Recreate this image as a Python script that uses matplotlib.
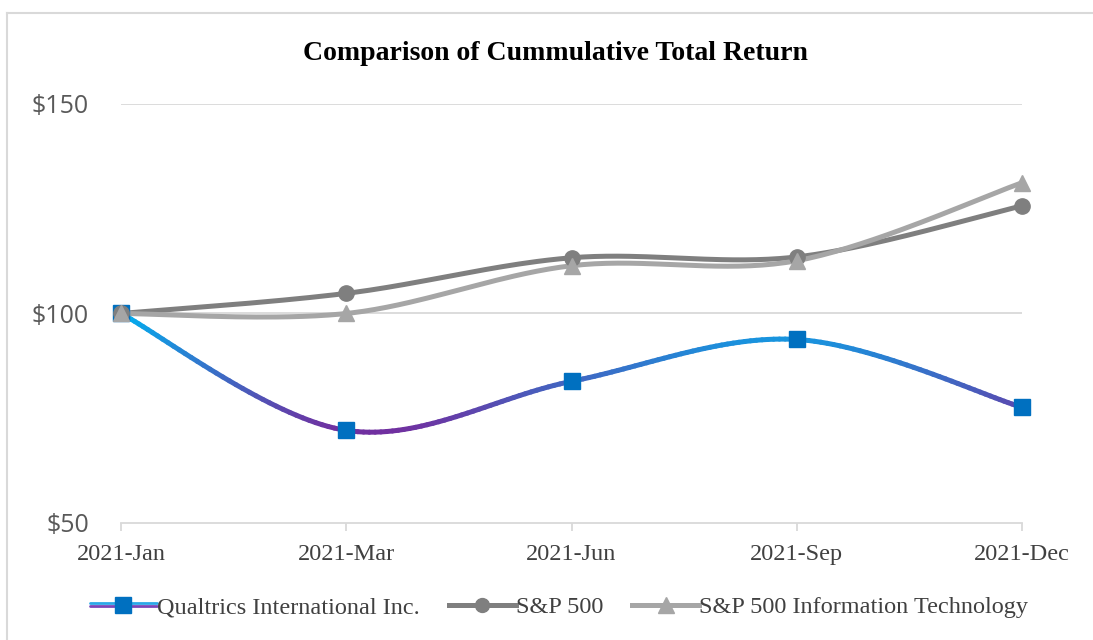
import numpy as np
import matplotlib
matplotlib.use("Agg")
import matplotlib.pyplot as plt
from matplotlib.collections import LineCollection
from matplotlib.colors import LinearSegmentedColormap
from matplotlib.legend_handler import HandlerBase
from matplotlib.lines import Line2D

months = ["2021-Jan", "2021-Mar", "2021-Jun", "2021-Sep", "2021-Dec"]
qualtrics = [100, 72.1, 83.8, 93.8, 77.6]
sp500 = [100, 104.8, 113.3, 113.5, 125.7]
sp500_it = [100, 100, 111.4, 112.6, 131.2]
yticks = [50, 100, 150]
ytick_labels = ["$50", "$100", "$150"]

serif = "Liberation Serif"
grad = LinearSegmentedColormap.from_list("q", ["#7030A0", "#00B0F0"])


def smooth(x, y, n=40):
    # bezier curve through points, excel-like smoothing
    x = np.asarray(x, float)
    y = np.asarray(y, float)
    xs, ys = [], []
    for i in range(len(x) - 1):
        x0, y0 = (x[i - 1], y[i - 1]) if i > 0 else (x[i], y[i])
        x3, y3 = (x[i + 2], y[i + 2]) if i + 2 < len(x) else (x[i + 1], y[i + 1])
        c1 = (x[i] + (x[i + 1] - x0) / 6, y[i] + (y[i + 1] - y0) / 6)
        c2 = (x[i + 1] - (x3 - x[i]) / 6, y[i + 1] - (y3 - y[i]) / 6)
        t = np.linspace(0, 1, n)
        b = [(1 - t) ** 3, 3 * (1 - t) ** 2 * t, 3 * (1 - t) * t ** 2, t ** 3]
        xs.append(b[0] * x[i] + b[1] * c1[0] + b[2] * c2[0] + b[3] * x[i + 1])
        ys.append(b[0] * y[i] + b[1] * c1[1] + b[2] * c2[1] + b[3] * y[i + 1])
    return np.concatenate(xs), np.concatenate(ys)


class GradientHandler(HandlerBase):
    def create_artists(self, legend, orig, xd, yd, w, h, fs, trans):
        y = h / 2 - yd
        x0, x1 = -xd, w - xd
        top = Line2D([x0, x1], [y + 1.0, y + 1.0], color="#2AA8E8", lw=2.0,
                     solid_capstyle="round", transform=trans)
        bot = Line2D([x0, x1], [y - 1.0, y - 1.0], color="#7A45B8", lw=2.0,
                     solid_capstyle="round", transform=trans)
        mk = Line2D([(x0 + x1) / 2], [y], marker="s", ms=11, color="#0070C0",
                    ls="none", transform=trans)
        return [bot, top, mk]


fig = plt.figure(figsize=(10.93, 6.4), dpi=100)
ax = fig.add_axes([121 / 1093, (640 - 523) / 640, (1022 - 121) / 1093, (523 - 104) / 640])

x = np.arange(len(months))

for v in yticks[1:]:
    ax.axhline(v, color="#D9D9D9", lw=1.3, zorder=0)

# qualtrics with gradient by value
qx, qy = smooth(x, qualtrics)
pts = np.column_stack([qx, qy]).reshape(-1, 1, 2)
segs = np.concatenate([pts[:-1], pts[1:]], axis=1)
mid = (qy[:-1] + qy[1:]) / 2
norm = (mid - min(qualtrics)) / (max(qualtrics) - min(qualtrics))
lc = LineCollection(segs, colors=grad(np.clip(norm, 0, 1)), linewidths=3.6,
                    capstyle="round", zorder=3)
lc.set_clip_on(False)
ax.add_collection(lc)
ax.plot(x, qualtrics, "s", color="#0070C0", ms=11, zorder=4, clip_on=False)

sx, sy = smooth(x, sp500)
ax.plot(sx, sy, color="#7F7F7F", lw=3.6, solid_capstyle="round", zorder=3, clip_on=False)
ax.plot(x, sp500, "o", color="#7F7F7F", ms=11, zorder=4, clip_on=False)

tx, ty = smooth(x, sp500_it)
ax.plot(tx, ty, color="#A6A6A6", lw=3.6, solid_capstyle="round", zorder=3, clip_on=False)
ax.plot(x, sp500_it, "^", color="#A6A6A6", ms=12, zorder=4, clip_on=False)

ax.set_xlim(0, 4)
ax.set_ylim(50, 150)
ax.set_yticks(yticks)
ax.set_yticklabels(ytick_labels, fontsize=18, color="#595959", family="Open Sans")
ax.tick_params(axis="y", length=0, pad=23)
ax.set_xticks(x)
ax.set_xticklabels(months, fontsize=17.5, color="#404040", family=serif)
ax.tick_params(axis="x", length=6, color="#D9D9D9", width=1.3, pad=9)
for s in ["top", "right", "left"]:
    ax.spines[s].set_visible(False)
ax.spines["bottom"].set_color("#D9D9D9")
ax.spines["bottom"].set_linewidth(1.3)

fig.text(555 / 1093, 1 - 53 / 640, "Comparison of Cummulative Total Return",
         ha="center", va="center", fontsize=20, fontweight="bold", family=serif)

h_q = Line2D([], [], color="#0070C0")
h_s = Line2D([], [], color="#7F7F7F", lw=3.6, marker="o", ms=10)
h_t = Line2D([], [], color="#A6A6A6", lw=3.6, marker="^", ms=11)
fig.legend([h_q, h_s, h_t],
           ["Qualtrics International Inc.", "S&P 500", "S&P 500 Information Technology"],
           handler_map={h_q: GradientHandler()},
           loc="center", bbox_to_anchor=(559 / 1093, 1 - 607 / 640), ncol=3,
           frameon=False, handlelength=2.75, handletextpad=0.0, columnspacing=1.2,
           prop={"family": serif, "size": 17.5}, labelcolor="#404040")

# chart border (top and left visible)
fig.add_artist(Line2D([7 / 1093, 1092 / 1093], [1 - 13 / 640, 1 - 13 / 640],
                      color="#D9D9D9", lw=1.5, transform=fig.transFigure))
fig.add_artist(Line2D([7 / 1093, 7 / 1093], [0, 1 - 13 / 640],
                      color="#D9D9D9", lw=1.5, transform=fig.transFigure))

fig.savefig("out.png", dpi=100)
